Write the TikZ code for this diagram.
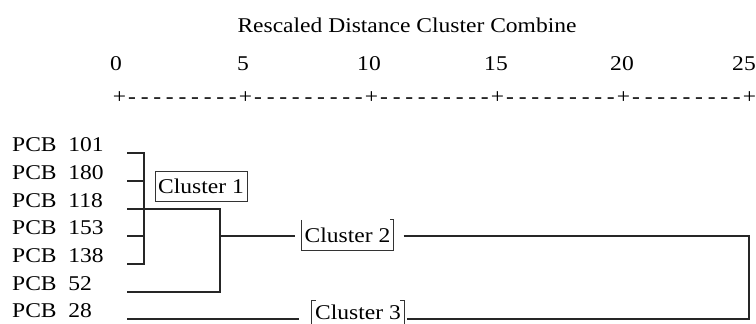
\documentclass[tikz,border=0pt]{standalone}
\usepackage{fontspec}
\setmainfont{Liberation Serif}[FakeStretch=1.12]
\begin{document}
\begin{tikzpicture}[x=1pt,y=-1pt,
  dline/.style={line width=1.6pt,draw=black!85},
  lbl/.style={anchor=base west,inner sep=0pt,font=\fontsize{21}{24}\selectfont},
  tick/.style={anchor=base,inner sep=0pt,font=\fontsize{21}{24}\selectfont},
  cbox/.style={inner sep=0pt,minimum width=92pt,minimum height=30pt,font=\fontsize{21}{24}\selectfont},
  bord/.style={line width=1pt,draw=black!80}]
\useasboundingbox (0,0) rectangle (756,324);
\newcommand{\pch}{\makebox[12.6pt]{+}}
\newcommand{\dch}{\makebox[12.6pt]{-}}
\newcommand{\seg}{\pch\dch\dch\dch\dch\dch\dch\dch\dch\dch}
% title and axis
\node[tick] (title) at (407,32) {Rescaled Distance Cluster Combine};
\node[tick] (t0) at (116,70) {0};
\node[tick] (t5) at (243,70) {5};
\node[tick] (t10) at (369,70) {10};
\node[tick] (t15) at (496,70) {15};
\node[tick] (t20) at (622,70) {20};
\node[tick] (t25) at (744,70) {25};
\node[lbl] (axis) at (113,103) {\seg\seg\seg\seg\seg\pch};
% labels
\node[lbl] (p1) at (12,151) {PCB\ \ 101};
\node[lbl] (p2) at (12,179) {PCB\ \ 180};
\node[lbl] (p3) at (12,207) {PCB\ \ 118};
\node[lbl] (p4) at (12,234) {PCB\ \ 153};
\node[lbl] (p5) at (12,262) {PCB\ \ 138};
\node[lbl] (p6) at (12,290) {PCB\ \ 52};
\node[lbl] (p7) at (12,317) {PCB\ \ 28};
% leaf ends
\coordinate (a1) at (127,153);
\coordinate (a2) at (127,181);
\coordinate (a3) at (127,209);
\coordinate (a4) at (127,236);
\coordinate (a5) at (127,264);
\coordinate (a6) at (127,292);
\coordinate (a7) at (127,319);
% joins
\coordinate (j1t) at (144,153);
\coordinate (j1b) at (144,264);
\coordinate (j2t) at (220,209);
\coordinate (j2b) at (220,292);
\coordinate (j2m) at (220,236);
\coordinate (j3t) at (749,236);
\coordinate (j3b) at (749,319);
% cluster boxes
\node[cbox,draw=black!80,line width=1pt] (c1) at (201,186.5) {Cluster 1};
\node[cbox] (c2) at (347.5,235) {Cluster 2};
\node[cbox,minimum height=22pt] (c3) at (358,312) {Cluster 3};
\draw[bord] (c2.north west) -- (c2.south west) -- (c2.south east) -- (c2.north east) -- ++(-4,0);
\draw[bord] ([xshift=4pt]c3.north west) -- (c3.north west) -- ([yshift=-10pt]c3.south west);
\draw[bord] ([xshift=-4pt]c3.north east) -- (c3.north east) -- ([yshift=-10pt]c3.south east);
% dendrogram
\draw[dline] (a1) -- (j1t) -- (j1b) -- (a5);
\draw[dline] (a2) -- (a2 -| j1t);
\draw[dline] (a4) -- (a4 -| j1t);
\draw[dline] (a3) -- (j2t) -- (j2b) -- (a6);
\draw[dline] (j2m) -- ([xshift=-6pt]c2.west |- j2m);
\draw[dline] ([xshift=10pt]c2.east |- j2m) -- (j3t) -- (j3b) -- ([xshift=3pt]c3.east |- j3b);
\draw[dline] ([xshift=-13pt]c3.west |- a7) -- (a7);
\end{tikzpicture}
\end{document}
